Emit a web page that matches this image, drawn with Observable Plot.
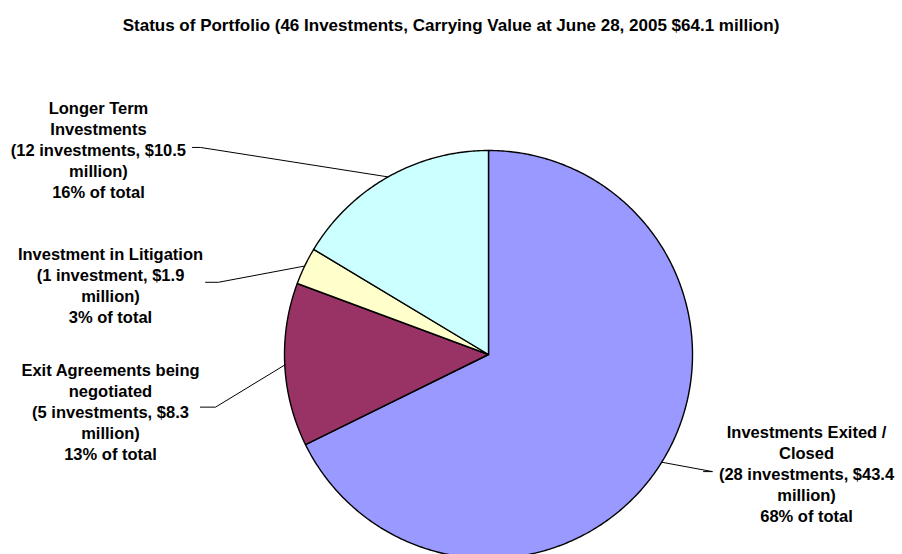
<!DOCTYPE html>
<html>
<head>
<meta charset="utf-8">
<script src="https://cdn.jsdelivr.net/npm/d3@7"></script>
<script src="https://cdn.jsdelivr.net/npm/@observablehq/plot@0.6"></script>
<style>
  html, body { margin: 0; padding: 0; background: #fff; }
  #wrap { position: relative; width: 902px; height: 554px; overflow: hidden; }
  #title { position: absolute; left: 0; top: 17px; width: 902px; text-align: center;
           font: bold 17px "Liberation Sans", Arial, sans-serif; line-height: 1; color: #000; }
  #chart svg { display: block; }
</style>
</head>
<body>
<div id="wrap">
  <div id="chart"></div>
  <div id="title">Status of Portfolio (46 Investments, Carrying Value at June 28, 2005 $64.1 million)</div>
</div>
<script>
// ---- data ----
const categories = ["Investments Exited / Closed", "Exit Agreements being negotiated", "Investment in Litigation", "Longer Term Investments"];
const nameLines = ["Investments Exited /\nClosed", "Exit Agreements being\nnegotiated", "Investment in Litigation", "Longer Term\nInvestments"];
const investments = [28, 5, 1, 12];
const values = [43.4, 8.3, 1.9, 10.5];   // $ million
const percents = [68, 13, 3, 16];
const colors = ["#9999FF", "#993366", "#FFFFCC", "#CCFFFF"];

// ---- label layout (in pie-radius units, center = 0,0) ----
const labelPos = [
  {x: 1.559, y: -0.336, ex: 1.098, ex2: 1.054, ey: -0.574},
  {x: -1.853, y: -0.031, ex: -1.338, ex2: -1.412, ey: -0.258},
  {x: -1.853, y: 0.538, ex: -1.324, ex2: -1.387, ey: 0.354},
  {x: -1.912, y: 1.252, ex: -1.412, ex2: -1.451, ey: 1.015}
];

// ---- geometry from data ----
const arcs = d3.pie().sort(null).value(d => d)(values);
const slices = arcs.map((a, i) => {
  const pts = [{x: 0, y: 0}];
  const n = Math.max(2, Math.ceil((a.endAngle - a.startAngle) / 0.01));
  for (let k = 0; k <= n; k++) {
    const t = a.startAngle + (a.endAngle - a.startAngle) * k / n;
    pts.push({x: Math.sin(t), y: Math.cos(t)});
  }
  pts.push({x: 0, y: 0});
  return {pts, color: colors[i]};
});

const labels = categories.map((c, i) => ({
  text: `${nameLines[i]}\n(${investments[i]} investment${investments[i] > 1 ? "s" : ""}, $${values[i]}\nmillion)\n${percents[i]}% of total`,
  x: labelPos[i].x, y: labelPos[i].y
}));

const leaders = arcs.flatMap((a, i) => {
  const m = (a.startAngle + a.endAngle) / 2;
  const L = labelPos[i];
  return [
    {k: i, x: Math.sin(m), y: Math.cos(m)},
    {k: i, x: L.ex, y: L.ey},
    {k: i, x: L.ex2, y: L.ey}
  ];
});

const chart = Plot.plot({
  width: 902,
  height: 554,
  x: {domain: [-1, 1], range: [284, 692], axis: null},
  y: {domain: [-1, 1], range: [558, 150], axis: null},
  marks: [
    ...slices.map(s => Plot.line(s.pts, {x: "x", y: "y", fill: s.color, stroke: "#000", strokeWidth: 1.4, strokeLinejoin: "round"})),
    Plot.line(leaders, {x: "x", y: "y", z: "k", stroke: "#000", strokeWidth: 1}),
    Plot.text(labels, {x: "x", y: "y", text: "text", lineAnchor: "top", textAnchor: "middle",
      fontSize: 16.5, fontWeight: "bold", fontFamily: "'Liberation Sans', Arial, sans-serif",
      lineHeight: 21 / 16.5, fill: "#000"})
  ]
});
document.getElementById("chart").appendChild(chart);
</script>
</body>
</html>
